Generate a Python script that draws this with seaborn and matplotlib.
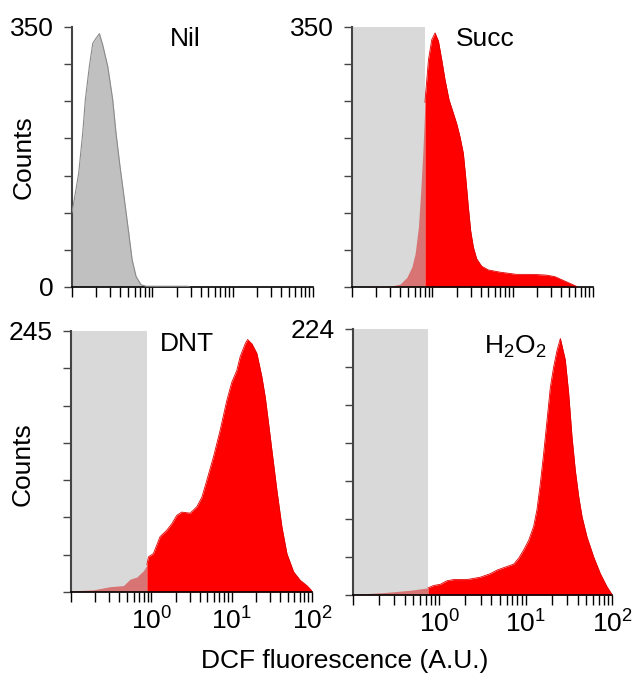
import numpy as np
import pandas as pd
import matplotlib
matplotlib.use("Agg")
import matplotlib.pyplot as plt
from matplotlib import font_manager
from matplotlib.ticker import FixedLocator, NullFormatter
import seaborn as sns

# ---------------- data ----------------
# x positions are given in decades (log10 of DCF fluorescence, A.U.)
nil_log_fl = [-1.0, -0.917, -0.867, -0.834, -0.784, -0.742, -0.70, -0.659, -0.618,
              -0.555, -0.493, -0.452, -0.402, -0.348, -0.294, -0.252, -0.202, -0.140,
              -0.078, 0.44, 0.46]
nil_counts = [100, 153, 207, 252, 297, 328, 335, 341, 326,
              297, 252, 207, 162, 118, 73, 37, 14, 3,
              1, 1, 0]

succ_log_fl = [-1.0, -0.524, -0.400, -0.317, -0.255, -0.214, -0.173, -0.144, -0.119,
               -0.090, -0.048, -0.007, 0.034, 0.076, 0.117, 0.158, 0.208, 0.262,
               0.303, 0.345, 0.386, 0.415, 0.448, 0.477, 0.510, 0.552, 0.614,
               0.696, 0.841, 1.048, 1.255, 1.420, 1.524, 1.669, 1.793]
succ_counts = [0, 1, 4, 13, 27, 45, 81, 130, 180,
               252, 306, 333, 342, 331, 306, 279, 252, 234,
               220, 202, 180, 148, 108, 76, 54, 38, 28,
               23, 20, 17, 17, 16, 14, 7, 1]

dnt_log_fl = [-1.0, -0.722, -0.514, -0.348, -0.265, -0.182, -0.098, -0.057, -0.036,
              0.025, 0.109, 0.192, 0.254, 0.317, 0.379, 0.483, 0.566, 0.629,
              0.691, 0.774, 0.857, 0.940, 1.002, 1.064, 1.106, 1.168, 1.198,
              1.252, 1.314, 1.376, 1.418, 1.460, 1.501, 1.564, 1.626, 1.688,
              1.771, 1.854, 1.937, 2.0]
dnt_counts = [1, 2, 5, 6, 12, 14, 20, 25, 33,
              36, 52, 58, 64, 72, 75, 74, 80, 89,
              105, 127, 152, 180, 197, 208, 221, 233, 237,
              233, 224, 202, 183, 158, 133, 95, 61, 36,
              19, 11, 6, 1]

h2o2_log_fl = [-1.0, -0.645, -0.336, -0.131, -0.066, 0.012, 0.089, 0.166, 0.320,
               0.475, 0.591, 0.668, 0.745, 0.861, 0.919, 0.977, 1.035, 1.093,
               1.131, 1.170, 1.208, 1.247, 1.286, 1.324, 1.363, 1.402, 1.459,
               1.498, 1.537, 1.575, 1.614, 1.653, 1.710, 1.788, 1.865, 1.942, 2.0]
h2o2_counts = [0.5, 2, 4, 6, 8, 9, 12, 13, 13,
               15, 18, 21, 23, 26, 31, 38, 46, 58,
               72, 94, 119, 147, 175, 192, 206, 216, 198,
               170, 133, 105, 83, 66, 49, 32, 18, 7, 0.5]

panel_names = ["Nil", "Succ", "DNT", r"$\mathregular{H_2O_2}$"]
y_max = [350, 350, 245, 224]
gate_upper = [None, 0.81, 0.88, 0.74]   # upper bound of the negative gate (A.U.)
x_limits = (0.1, 100)
x_tick_values = [0.1, 1, 10, 100]
x_tick_labels = ["", r"$10^{0}$", r"$10^{1}$", r"$10^{2}$"]

# ---------------- style ----------------
sns.set_theme(style="ticks")


def has_font(name):
    try:
        font_manager.findfont(font_manager.FontProperties(family=name),
                              fallback_to_default=False)
        return True
    except Exception:
        return False


if has_font("Liberation Sans Narrow"):
    main_font, fs = "Liberation Sans Narrow", 22
else:
    main_font, fs = "Liberation Sans", 19

plt.rcParams["font.family"] = [main_font, "DejaVu Sans"]
plt.rcParams["mathtext.fontset"] = "custom"
plt.rcParams["mathtext.rm"] = main_font
plt.rcParams["mathtext.it"] = main_font
plt.rcParams["mathtext.default"] = "regular"
plt.rcParams["text.color"] = "black"
plt.rcParams["xtick.labelcolor"] = "black"
plt.rcParams["ytick.labelcolor"] = "black"

RED = "#ff0000"
SALMON = "#d87474"
GATE = "#d9d9d9"
NIL_FILL = "#c0c0c0"
NIL_EDGE = "#8a8a8a"

fig = plt.figure(figsize=(6.35, 6.76), dpi=100)
W, H = 635, 676


def px_axes(left, top, right, bottom):
    return fig.add_axes([left / W, 1 - bottom / H, (right - left) / W, (bottom - top) / H])


axes = [
    px_axes(72, 27, 313, 287),
    px_axes(352, 27, 593, 287),
    px_axes(71, 331, 312, 592),
    px_axes(353, 329, 612, 595),
]

series = [
    (nil_log_fl, nil_counts),
    (succ_log_fl, succ_counts),
    (dnt_log_fl, dnt_counts),
    (h2o2_log_fl, h2o2_counts),
]

title_pos = [(0.47, 1.0), (0.552, 1.0), (0.48, 0.995), (0.625, 0.982)]

for i, (ax, (lx, cnt)) in enumerate(zip(axes, series)):
    df = pd.DataFrame({"fl": 10 ** np.asarray(lx, float), "counts": np.asarray(cnt, float)})
    ax.set_xscale("log")
    if i == 0:
        ax.fill_between(df["fl"], 0, df["counts"], color=NIL_FILL, lw=0, zorder=2)
        sns.lineplot(data=df, x="fl", y="counts", ax=ax, color=NIL_EDGE, lw=0.8, zorder=3)
    else:
        g = gate_upper[i]
        ax.axvspan(x_limits[0], g, color=GATE, lw=0, zorder=1)
        # split the histogram exactly at the gate (interpolating on the log axis)
        lg = np.log10(df["fl"].values)
        c_gate = np.interp(np.log10(g), lg, df["counts"].values)
        left = df[df["fl"] <= g]
        right = df[df["fl"] > g]
        lx_ = np.r_[left["fl"].values, g]
        ly_ = np.r_[left["counts"].values, c_gate]
        rx_ = np.r_[g, right["fl"].values]
        ry_ = np.r_[c_gate, right["counts"].values]
        ax.fill_between(lx_, 0, ly_, color=SALMON, lw=0, zorder=2)
        ax.fill_between(rx_, 0, ry_, color=RED, lw=0, zorder=2)
        sns.lineplot(x=rx_, y=ry_, ax=ax, color="#e00000", lw=0.6, zorder=3)

    ax.set_xlim(*x_limits)
    ax.set_ylim(0, y_max[i])
    ax.set_xlabel("")
    ax.set_ylabel("")

    # x ticks
    ax.xaxis.set_major_locator(FixedLocator(x_tick_values))
    ax.xaxis.set_minor_locator(FixedLocator(
        [m * d for d in (0.1, 1, 10) for m in range(2, 10)]))
    ax.xaxis.set_minor_formatter(NullFormatter())
    if i >= 2:
        ax.set_xticklabels(x_tick_labels)
    else:
        ax.set_xticklabels([])
    ax.tick_params(axis="x", which="both", direction="out", length=7, width=1,
                   color="black", labelcolor="black", labelsize=fs, pad=4)

    # y ticks: 8 ticks, only extremes labelled
    yt = np.linspace(0, y_max[i], 8)
    ax.set_yticks(yt)
    ylabels = [""] * 8
    ylabels[-1] = str(y_max[i])
    if i == 0:
        ylabels[0] = "0"
    ax.set_yticklabels(ylabels)
    ax.tick_params(axis="y", which="both", direction="out", length=6, width=1,
                   color="#444444", labelcolor="black", labelsize=fs, pad=7)
    ax.tick_params(axis="y", which="minor", length=0)

    sns.despine(ax=ax)
    ax.spines["left"].set_color("#444444")
    ax.spines["left"].set_linewidth(1.5)
    ax.spines["bottom"].set_color("black")
    ax.spines["bottom"].set_linewidth(1.2)
    ax.set_facecolor("white")

    tx, ty = title_pos[i]
    ax.text(tx, ty, panel_names[i], transform=ax.transAxes, ha="center", va="top",
            fontsize=fs, color="black", zorder=5)

# axis labels
fig.text(24 / W, 1 - 157 / H, "Counts", rotation=90, ha="center", va="center",
         fontsize=fs, color="black")
fig.text(23 / W, 1 - 464 / H, "Counts", rotation=90, ha="center", va="center",
         fontsize=fs, color="black")
fig.text(345 / W, 1 - 661 / H, "DCF fluorescence (A.U.)", ha="center", va="center",
         fontsize=fs, color="black")

fig.savefig("out.png", dpi=100, facecolor="white")
